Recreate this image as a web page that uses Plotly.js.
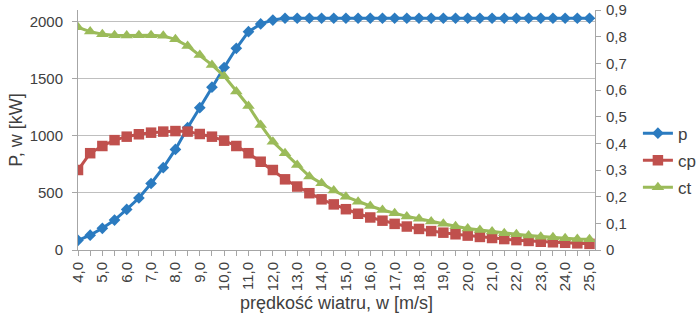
<!DOCTYPE html>
<html>
<head>
<meta charset="utf-8">
<script src="https://cdn.plot.ly/plotly-3.0.1.min.js"></script>
<style>
  html, body { margin: 0; padding: 0; background: #fff; }
  #chart { width: 700px; height: 317px; }
</style>
</head>
<body>
<div id="chart"></div>
<script>
// Wind speed, m/s
const windSpeed = [4.0, 4.5, 5.0, 5.5, 6.0, 6.5, 7.0, 7.5, 8.0, 8.5, 9.0, 9.5, 10.0, 10.5,
  11.0, 11.5, 12.0, 12.5, 13.0, 13.5, 14.0, 14.5, 15.0, 15.5, 16.0, 16.5, 17.0, 17.5,
  18.0, 18.5, 19.0, 19.5, 20.0, 20.5, 21.0, 21.5, 22.0, 22.5, 23.0, 23.5, 24.0, 24.5, 25.0];

// Turbine power, kW
const powerKW = [85, 130, 190, 262, 355, 455, 582, 720, 880, 1070, 1245, 1425, 1597, 1765,
  1910, 1978, 2012, 2028, 2028, 2028, 2028, 2028, 2028, 2028, 2028, 2028, 2028, 2028,
  2028, 2028, 2028, 2028, 2028, 2028, 2028, 2028, 2028, 2028, 2028, 2028, 2028, 2028, 2028];

// Power coefficient
const cpValues = [0.300, 0.363, 0.390, 0.412, 0.425, 0.434, 0.440, 0.444, 0.446, 0.444, 0.435, 0.425, 0.410, 0.390,
  0.363, 0.331, 0.300, 0.265, 0.238, 0.213, 0.190, 0.171, 0.153, 0.136, 0.122, 0.110, 0.098, 0.088,
  0.079, 0.071, 0.065, 0.059, 0.054, 0.049, 0.045, 0.041, 0.037, 0.034, 0.031, 0.029, 0.027, 0.025, 0.023];

// Thrust coefficient
const ctValues = [0.835, 0.819, 0.809, 0.805, 0.804, 0.805, 0.805, 0.803, 0.790, 0.765, 0.731, 0.694, 0.652, 0.594,
  0.540, 0.469, 0.406, 0.363, 0.319, 0.276, 0.250, 0.223, 0.200, 0.181, 0.165, 0.150, 0.138, 0.126,
  0.117, 0.107, 0.098, 0.089, 0.081, 0.075, 0.069, 0.063, 0.059, 0.054, 0.050, 0.048, 0.044, 0.041, 0.040];

// Labelled x ticks
const xTickValues = [4, 5, 6, 7, 8, 9, 10, 11, 12, 13, 14, 15, 16, 17, 18, 19, 20, 21, 22, 23, 24, 25];
const xTickLabels = ['4,0', '5,0', '6,0', '7,0', '8,0', '9,0', '10,0', '11,0', '12,0', '13,0', '14,0',
  '15,0', '16,0', '17,0', '18,0', '19,0', '20,0', '21,0', '22,0', '23,0', '24,0', '25,0'];

const textColor = '#404040';
const axisColor = '#A6A6A6';

const traces = [
  {
    x: windSpeed, y: powerKW, name: 'p', type: 'scatter', mode: 'lines+markers',
    line: { color: '#2B7BC0', width: 3 },
    marker: { symbol: 'diamond', size: 9, color: '#2B7BC0' },
    legendgroup: 'p'
  },
  {
    x: windSpeed, y: cpValues, name: 'cp', type: 'scatter', mode: 'lines+markers', yaxis: 'y2',
    line: { color: '#C0504D', width: 3 },
    marker: { symbol: 'square', size: 10.5, color: '#C0504D' },
    legendgroup: 'cp'
  },
  {
    x: windSpeed, y: ctValues, name: 'ct', type: 'scatter', mode: 'lines+markers', yaxis: 'y2',
    line: { color: '#9BBB59', width: 3 },
    marker: { symbol: 'triangle-up', size: 11, color: '#9BBB59' },
    legendgroup: 'ct'
  }
];

const layout = {
  width: 700, height: 317,
  margin: { l: 78, r: 105, t: 10, b: 67, autoexpand: false },
  paper_bgcolor: '#fff', plot_bgcolor: '#fff',
  separators: ',.',
  font: { family: 'Liberation Sans, Arial, sans-serif', size: 15, color: textColor },
  showlegend: true,
  legend: {
    x: 1.083, xanchor: 'left', y: 0.56, yanchor: 'top',
    font: { size: 17, color: textColor },
    traceorder: 'grouped', tracegroupgap: 2,
    itemwidth: 30, bgcolor: 'rgba(0,0,0,0)'
  },
  xaxis: {
    range: [4, 25.226],
    tickmode: 'array', tickvals: xTickValues, ticktext: xTickLabels,
    tickangle: -90,
    ticks: 'outside', ticklen: 5, tickcolor: axisColor,
    minor: { tick0: 4, dtick: 0.5, ticks: 'outside', ticklen: 5, tickcolor: axisColor, showgrid: false },
    showline: true, linecolor: axisColor, linewidth: 1,
    showgrid: false, zeroline: false,
    tickfont: { size: 15, color: textColor },
    title: { text: 'prędkość wiatru, w [m/s]', font: { size: 18, color: textColor }, standoff: 6 }
  },
  yaxis: {
    range: [0, 2100],
    tickvals: [0, 500, 1000, 1500, 2000],
    ticks: 'outside', ticklen: 5, tickcolor: axisColor,
    showline: true, linecolor: axisColor, linewidth: 1,
    showgrid: true, gridcolor: '#BFBFBF', gridwidth: 1,
    zeroline: false,
    tickfont: { size: 15, color: textColor },
    ticklabelstandoff: 6,
    title: { text: 'P, w [kW]', font: { size: 18, color: textColor }, standoff: 2 }
  },
  yaxis2: {
    overlaying: 'y', side: 'right',
    range: [0, 0.9],
    tickvals: [0, 0.1, 0.2, 0.3, 0.4, 0.5, 0.6, 0.7, 0.8, 0.9],
    ticks: 'outside', ticklen: 5, tickcolor: axisColor,
    showline: true, linecolor: axisColor, linewidth: 1,
    showgrid: false, zeroline: false,
    tickfont: { size: 15, color: textColor },
    ticklabelstandoff: 2
  }
};

Plotly.newPlot('chart', traces, layout, { displayModeBar: false, staticPlot: true });
</script>
</body>
</html>
